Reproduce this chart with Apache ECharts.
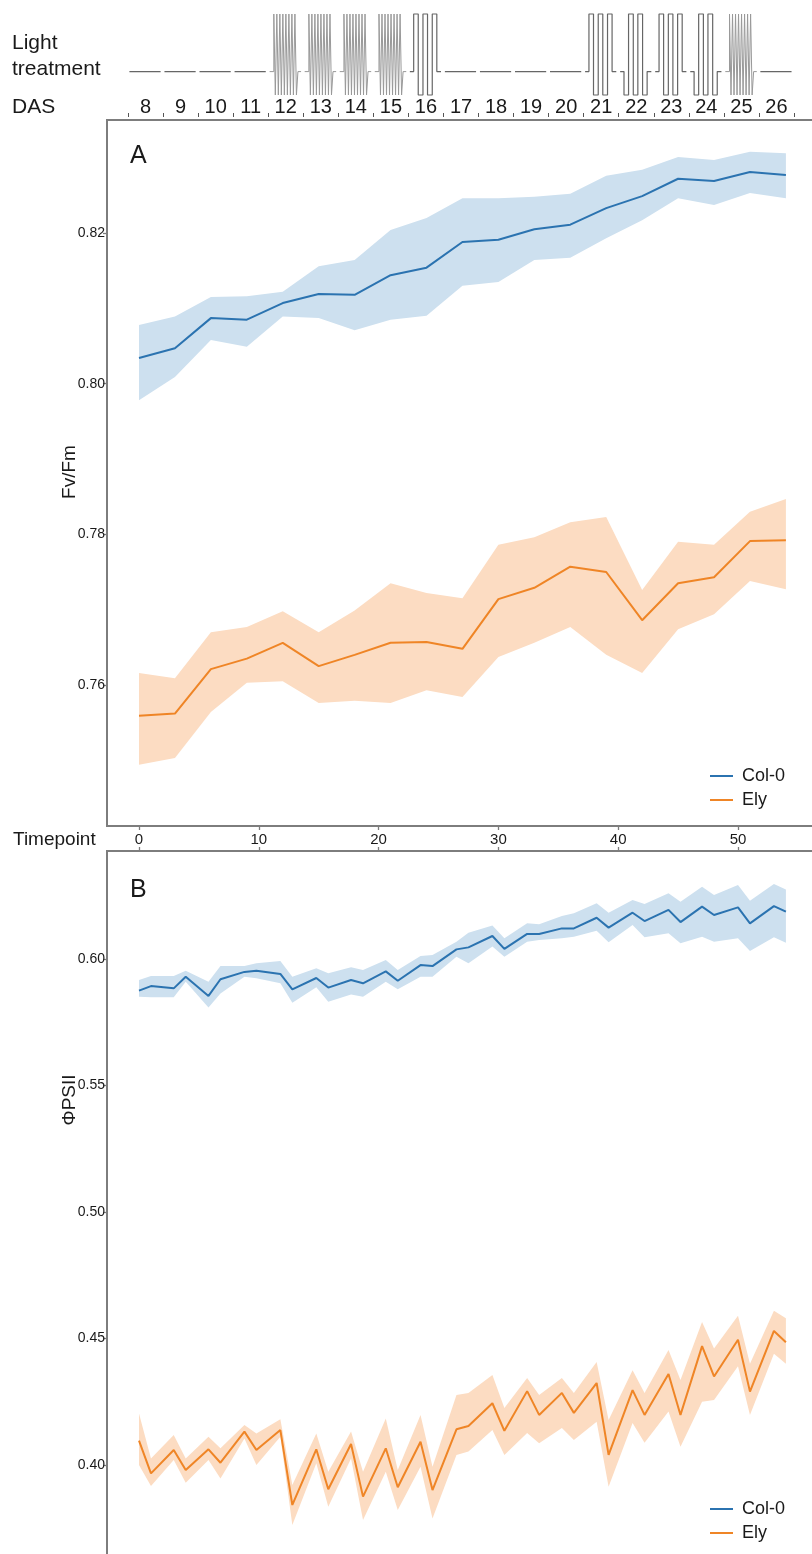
<!DOCTYPE html>
<html><head><meta charset="utf-8">
<script src="https://cdn.jsdelivr.net/npm/echarts@6/dist/echarts.min.js"></script>
<style>html,body{margin:0;padding:0;background:#fff}#c{width:812px;height:1554px}</style>
</head><body><div id="c"></div>
<script>
// ---------- data ----------
const dasDays = ['8','9','10','11','12','13','14','15','16','17','18','19','20','21','22','23','24','25','26'];
// C = constant light, D = dense fluctuations, F3 = three high pulses, F2 = low-start pulses
const lightPattern = ['C','C','C','C','D','D','D','D','F3','C','C','C','C','F3','F2','F3','F2','D','C'];
const lightLevels = {H: 500, C: 180, L: 50};

const timeTicks = [0, 10, 20, 30, 40, 50];
const fvfmTicks = [0.76, 0.78, 0.80, 0.82];
const phiTicks = [0.40, 0.45, 0.50, 0.55, 0.60];

const tpA = [0,3,6,9,12,15,18,21,24,27,30,33,36,39,42,45,48,51,54];
const colA_mean = [0.8034,0.8047,0.8087,0.8085,0.8107,0.8119,0.8118,0.8144,0.8154,0.8188,0.8191,0.8205,0.8211,0.8233,0.8249,0.8272,0.8269,0.8281,0.8277];
const colA_hi   = [0.8078,0.8089,0.8115,0.8116,0.8122,0.8156,0.8164,0.8204,0.8220,0.8246,0.8246,0.8248,0.8252,0.8276,0.8284,0.8301,0.8297,0.8308,0.8306];
const colA_lo   = [0.7978,0.8009,0.8058,0.8049,0.8089,0.8087,0.8071,0.8085,0.8090,0.8130,0.8135,0.8164,0.8167,0.8193,0.8217,0.8246,0.8237,0.8253,0.8246];
const elyA_mean = [0.7559,0.7562,0.7621,0.7635,0.7656,0.7625,0.7640,0.7656,0.7657,0.7648,0.7714,0.7729,0.7757,0.7750,0.7686,0.7735,0.7743,0.7791,0.7792];
const elyA_hi   = [0.7616,0.7609,0.7670,0.7677,0.7698,0.7670,0.7699,0.7735,0.7722,0.7715,0.7786,0.7796,0.7816,0.7823,0.7726,0.7790,0.7786,0.7830,0.7847];
const elyA_lo   = [0.7494,0.7503,0.7564,0.7603,0.7605,0.7576,0.7579,0.7576,0.7593,0.7584,0.7637,0.7656,0.7677,0.7640,0.7616,0.7674,0.7694,0.7738,0.7727];

const tpB = [0,1,2.9,3.9,5.8,6.8,8.8,9.8,11.8,12.8,14.8,15.8,17.7,18.7,20.6,21.6,23.5,24.5,26.5,27.5,29.5,30.5,32.4,33.4,35.3,36.3,38.2,39.2,41.2,42.2,44.2,45.2,47.0,48.0,50.0,51.0,53.0,54.0];
const colB_mean = [0.5875,0.5893,0.5884,0.5930,0.5854,0.5920,0.5949,0.5954,0.5941,0.5880,0.5925,0.5887,0.5917,0.5904,0.5951,0.5914,0.5976,0.5972,0.6038,0.6046,0.6091,0.6040,0.6099,0.6099,0.6121,0.6121,0.6163,0.6124,0.6183,0.6150,0.6194,0.6146,0.6207,0.6174,0.6204,0.6141,0.6209,0.6187];
const colB_hi   = [0.5917,0.5933,0.5933,0.5954,0.5910,0.5972,0.5972,0.5983,0.5992,0.5930,0.5963,0.5944,0.5967,0.5957,0.5996,0.5957,0.6012,0.6016,0.6068,0.6104,0.6132,0.6082,0.6141,0.6137,0.6170,0.6181,0.6220,0.6183,0.6233,0.6217,0.6260,0.6226,0.6286,0.6253,0.6292,0.6230,0.6296,0.6275];
const colB_lo   = [0.5851,0.5849,0.5849,0.5910,0.5808,0.5864,0.5930,0.5924,0.5904,0.5827,0.5888,0.5831,0.5860,0.5851,0.5910,0.5880,0.5930,0.5930,0.6009,0.5983,0.6049,0.6009,0.6068,0.6075,0.6082,0.6088,0.6112,0.6066,0.6134,0.6086,0.6102,0.6062,0.6088,0.6068,0.6082,0.6032,0.6086,0.6064];
const elyB_mean = [0.4096,0.3967,0.4059,0.3980,0.4062,0.4009,0.4132,0.4059,0.4138,0.3842,0.4062,0.3904,0.4083,0.3875,0.4066,0.3912,0.4092,0.3901,0.4141,0.4154,0.4244,0.4135,0.4292,0.4198,0.4285,0.4206,0.4324,0.4040,0.4296,0.4198,0.4360,0.4198,0.4470,0.4350,0.4495,0.4290,0.4530,0.4485];
const elyB_hi   = [0.4204,0.4026,0.4119,0.4026,0.4112,0.4066,0.4158,0.4125,0.4181,0.3921,0.4125,0.3973,0.4132,0.3973,0.4184,0.3980,0.4198,0.3993,0.4277,0.4285,0.4356,0.4225,0.4344,0.4277,0.4344,0.4285,0.4407,0.4178,0.4375,0.4285,0.4455,0.4336,0.4565,0.4460,0.4590,0.4400,0.4610,0.4580];
const elyB_lo   = [0.4000,0.3917,0.4020,0.3930,0.4020,0.3947,0.4105,0.4000,0.4112,0.3763,0.4007,0.3835,0.4026,0.3783,0.3973,0.3822,0.3993,0.3789,0.4040,0.4053,0.4138,0.4040,0.4126,0.4086,0.4146,0.4099,0.4171,0.3914,0.4166,0.4088,0.4211,0.4072,0.4250,0.4257,0.4390,0.4198,0.4440,0.4400];

// ---------- light schematic (per-day sequence of levels with day-fraction widths) ----------
const denseSeq = [['C',0.12]].concat('HLHLHLHLHLHLHLHL'.split('').map(l => [l, 0.043])).concat([['C',0.09]]);
const lightSegments = {
  C:  [['C',0.89]],
  F3: [['C',0.11],['H',0.13],['L',0.135],['H',0.13],['L',0.135],['H',0.13],['C',0.12]],
  F2: [['C',0.11],['L',0.13],['H',0.135],['L',0.13],['H',0.135],['L',0.13],['C',0.12]],
  D:  denseSeq
};
const lightData = [], denseData = [];
dasDays.forEach((d, i) => {
  const target = lightPattern[i] === 'D' ? denseData : lightData;
  let x = Number(d) - 0.46;
  lightSegments[lightPattern[i]].forEach(([lv, w]) => {
    target.push([x, lightLevels[lv]]);
    x += w;
    target.push([x, lightLevels[lv]]);
  });
  target.push([x + 0.02, null]);
});

// ---------- chart ----------
const FONT = "'Liberation Sans', Arial, Helvetica, sans-serif";
const BLUE = '#2b73b0', BLUE_BAND = '#cde0ef', ORANGE = '#ef8526', ORANGE_BAND = '#fcdcc2';
const TXT = '#1a1a1a', AX = '#7d7d7d';

function band(name, xs, lo, hi, color, xi, yi) {
  return {
    type: 'custom', name: name, xAxisIndex: xi, yAxisIndex: yi, z: 1, silent: true,
    data: xs.map((x, i) => [x, lo[i], hi[i]]),
    encode: {x: 0, y: [1, 2]},
    renderItem: function (params, api) {
      if (params.dataIndex !== 0) return null;
      const pts = [];
      for (let i = 0; i < xs.length; i++) pts.push(api.coord([xs[i], hi[i]]));
      for (let i = xs.length - 1; i >= 0; i--) pts.push(api.coord([xs[i], lo[i]]));
      return {type: 'polygon', shape: {points: pts}, style: {fill: color}};
    }
  };
}
function line(name, xs, ys, color, xi, yi) {
  return {
    type: 'line', name: name, xAxisIndex: xi, yAxisIndex: yi, z: 3,
    data: xs.map((x, i) => [x, ys[i]]), symbol: 'none', showSymbol: false,
    lineStyle: {width: 2, color: color}, itemStyle: {color: color}
  };
}
const tickStyle = {color: AX, width: 1.3};
const noLine = {show: false, onZero: false};
const legendBase = {
  data: ['Col-0', 'Ely'], orient: 'vertical', left: 705, icon: 'rect',
  itemWidth: 23, itemHeight: 2, itemGap: 6, selectedMode: false,
  textStyle: {fontSize: 18, lineHeight: 18, color: TXT, fontFamily: FONT, padding: [0, 0, 0, 4]}
};
function txt(text, x, y, size, align, rot) {
  return {type: 'text', x: x, y: y, rotation: rot || 0, silent: true,
    style: {text: text, x: 0, y: 0, fill: TXT, font: size + 'px ' + FONT, align: align || 'left', verticalAlign: 'middle'}};
}

const chart = echarts.init(document.getElementById('c'), null, {renderer: 'canvas'});
chart.setOption({
  animation: false,
  backgroundColor: '#fff',
  textStyle: {fontFamily: FONT},
  grid: [
    {left: 128, top: 14, width: 666, height: 81, show: false, outerBoundsMode: 'none', containLabel: false},
    {left: 107, top: 120, width: 725, height: 706, show: true, borderColor: AX, borderWidth: 2, outerBoundsMode: 'none', containLabel: false},
    {left: 107, top: 851, width: 725, height: 723, show: true, borderColor: AX, borderWidth: 2, outerBoundsMode: 'none', containLabel: false}
  ],
  xAxis: [
    {gridIndex: 0, type: 'category', data: dasDays, position: 'bottom', offset: 22, boundaryGap: true,
      axisLine: noLine, axisTick: {show: true, inside: true, length: 4, interval: 0, lineStyle: {color: '#555', width: 1}},
      axisLabel: {inside: true, margin: 0, interval: 0, fontSize: 20, color: TXT, fontFamily: FONT}, splitLine: {show: false}},
    {gridIndex: 0, type: 'value', min: 7.5, max: 26.5, show: false, axisLine: noLine},
    {gridIndex: 1, type: 'value', min: -2.671, max: 57.847, position: 'bottom',
      axisLine: noLine, axisTick: {show: true, customValues: timeTicks, length: 4, lineStyle: tickStyle},
      axisLabel: {customValues: timeTicks, fontSize: 15, margin: 6, color: TXT, fontFamily: FONT}, splitLine: {show: false}},
    {gridIndex: 2, type: 'value', min: -2.671, max: 57.847, position: 'top',
      axisLine: noLine, axisTick: {show: true, customValues: timeTicks, length: 4, lineStyle: tickStyle},
      axisLabel: {show: false}, splitLine: {show: false}}
  ],
  yAxis: [
    {gridIndex: 0, type: 'value', min: 50, max: 500, show: false, axisLine: noLine},
    {gridIndex: 1, type: 'value', min: 0.74128, max: 0.835, position: 'left',
      axisLine: noLine, axisTick: {show: true, customValues: fvfmTicks, length: 4, lineStyle: tickStyle},
      axisLabel: {customValues: fvfmTicks, formatter: v => v.toFixed(2), fontSize: 14, margin: 2, color: TXT, fontFamily: FONT},
      splitLine: {show: false}},
    {gridIndex: 2, type: 'value', min: 0.356917, max: 0.642688, position: 'left',
      axisLine: noLine, axisTick: {show: true, customValues: phiTicks, length: 4, lineStyle: tickStyle},
      axisLabel: {customValues: phiTicks, formatter: v => v.toFixed(2), fontSize: 14, margin: 2, color: TXT, fontFamily: FONT},
      splitLine: {show: false}}
  ],
  legend: [
    Object.assign({}, legendBase, {top: 762}),
    Object.assign({}, legendBase, {top: 1495})
  ],
  series: [
    {type: 'line', name: 'light', xAxisIndex: 1, yAxisIndex: 0, data: lightData, symbol: 'none', showSymbol: false,
      clip: false, connectNulls: false, lineStyle: {width: 1.2, color: '#666666'}, z: 2},
    {type: 'line', name: 'light dense', xAxisIndex: 1, yAxisIndex: 0, data: denseData, symbol: 'none', showSymbol: false,
      clip: false, connectNulls: false, lineStyle: {width: 1, color: '#999999'}, z: 2},
    band('Col-0 band A', tpA, colA_lo, colA_hi, BLUE_BAND, 2, 1),
    band('Ely band A', tpA, elyA_lo, elyA_hi, ORANGE_BAND, 2, 1),
    line('Col-0', tpA, colA_mean, BLUE, 2, 1),
    line('Ely', tpA, elyA_mean, ORANGE, 2, 1),
    band('Col-0 band B', tpB, colB_lo, colB_hi, BLUE_BAND, 3, 2),
    band('Ely band B', tpB, elyB_lo, elyB_hi, ORANGE_BAND, 3, 2),
    line('Col-0', tpB, colB_mean, BLUE, 3, 2),
    line('Ely', tpB, elyB_mean, ORANGE, 3, 2)
  ],
  graphic: [
    txt('Light', 12, 43, 21),
    txt('treatment', 12, 69, 21),
    txt('DAS', 12, 107.5, 21),
    txt('Timepoint', 13, 840, 19),
    txt('A', 130, 156, 25),
    txt('B', 130, 890, 25),
    txt('Fv/Fm', 70, 472, 19, 'center', Math.PI / 2),
    txt('\u03A6PSII', 70, 1100, 19, 'center', Math.PI / 2)
  ]
});
</script>
</body></html>
